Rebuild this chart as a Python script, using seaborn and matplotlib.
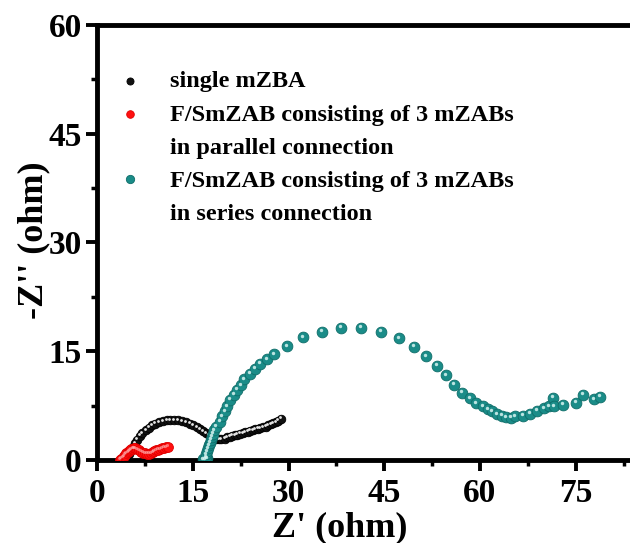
import numpy as np
import pandas as pd
import matplotlib
matplotlib.use("Agg")
import matplotlib.pyplot as plt
import matplotlib.transforms as mtransforms
from matplotlib.ticker import MultipleLocator
import seaborn as sns

# Nyquist data: Z' (ohm) vs -Z'' (ohm)
single_x = [5.0, 5.3, 5.6, 5.9, 6.3, 6.7, 7.1, 7.6, 8.1, 8.6, 9.1, 9.7, 10.3, 10.9,
            11.5, 12.1, 12.7, 13.3, 13.9, 14.5, 15.1, 15.6, 16.1, 16.6, 17.1, 17.5,
            17.9, 18.3, 18.7, 19.1, 19.5, 20.0, 20.4, 20.8, 21.2, 21.6, 22.0, 22.4,
            22.8, 23.2, 23.6, 24.0, 24.4, 24.8, 25.2, 25.6, 26.0, 26.4, 26.8, 27.2,
            27.6, 28.0, 28.4, 28.8]
single_y = [0.8, 1.3, 1.8, 2.3, 2.8, 3.3, 3.7, 4.1, 4.45, 4.75, 5.0, 5.2, 5.35, 5.45,
            5.5, 5.5, 5.45, 5.35, 5.2, 5.0, 4.75, 4.5, 4.25, 3.95, 3.65, 3.4,
            3.2, 3.0, 2.9, 2.85, 2.85, 2.95, 3.1, 3.2, 3.3, 3.4, 3.5, 3.6,
            3.7, 3.8, 3.9, 4.0, 4.1, 4.2, 4.3, 4.4, 4.5, 4.6, 4.75, 4.9,
            5.05, 5.2, 5.4, 5.7]

parallel_x = [3.6, 3.8, 4.0, 4.2, 4.4, 4.6, 4.8, 5.0, 5.2, 5.4, 5.6, 5.8, 6.0, 6.3,
              6.6, 6.9, 7.2, 7.5, 7.8, 8.1, 8.4, 8.7, 9.0, 9.3, 9.6, 9.9, 10.2,
              10.5, 10.8, 11.1]
parallel_y = [0.0, 0.15, 0.3, 0.5, 0.7, 0.9, 1.05, 1.2, 1.35, 1.45, 1.55, 1.6, 1.6, 1.5,
              1.35, 1.15, 1.0, 0.9, 0.85, 0.85, 0.95, 1.05, 1.2, 1.3, 1.4, 1.5, 1.6,
              1.7, 1.75, 1.8]

series_x = [16.6, 16.9, 17.2, 17.0, 17.1, 17.25, 17.4, 17.55, 17.7, 17.85, 18.0, 18.15,
            18.4, 18.7, 19.2, 19.6, 20.0, 20.4, 20.9, 21.4, 21.9, 22.5, 23.1, 23.9,
            24.7, 25.6, 26.7, 27.7, 29.7, 32.3, 35.2, 38.3, 41.4, 44.5, 47.3, 49.7,
            51.5, 53.2, 54.6, 55.9, 57.2, 58.4, 59.3, 60.4, 61.2, 61.9, 62.7, 63.4,
            64.1, 64.8, 65.5, 66.7, 67.9, 69.0, 70.0, 70.8, 71.4, 71.6, 73.0, 75.0,
            76.2, 77.8, 78.8]
series_y = [0.1, 0.1, 0.2, 0.4, 0.8, 1.2, 1.6, 2.0, 2.4, 2.8, 3.2, 3.6,
            4.1, 4.6, 5.3, 6.0, 6.7, 7.4, 8.3, 9.0, 9.7, 10.3, 11.1, 11.9,
            12.6, 13.3, 13.9, 14.6, 15.7, 16.9, 17.7, 18.2, 18.2, 17.7, 16.8, 15.6,
            14.3, 13.0, 11.7, 10.4, 9.3, 8.5, 7.8, 7.4, 7.0, 6.7, 6.3, 6.1,
            5.9, 5.8, 6.0, 6.1, 6.4, 6.8, 7.1, 7.4, 8.6, 7.4, 7.6, 7.9,
            9.0, 8.4, 8.7]

labels = ["single mZBA",
          "F/SmZAB consisting of 3 mZABs\nin parallel connection",
          "F/SmZAB consisting of 3 mZABs\nin series connection"]
x_ticks = [0, 15, 30, 45, 60, 75]
y_ticks = [0, 15, 30, 45, 60]

sns.set_theme(style="white")
plt.rcParams["font.family"] = ["Liberation Serif", "DejaVu Serif"]
plt.rcParams["font.weight"] = "bold"
plt.rcParams["text.color"] = "black"
plt.rcParams["axes.labelcolor"] = "black"
plt.rcParams["xtick.color"] = "black"
plt.rcParams["ytick.color"] = "black"

fig = plt.figure(figsize=(6.3, 5.43), dpi=100)
ax = fig.add_axes([0.154, 0.153, 0.846, 0.801])

styles = [
    dict(x=single_x, y=single_y, face="#111111", edge="#000000", s=38, hl="#ffffff", hs=4, ha=0.9),
    dict(x=parallel_x, y=parallel_y, face="#ff1010", edge="#e00000", s=50, hl="#ffb0b0", hs=5, ha=0.6),
    dict(x=series_x, y=series_y, face="#1a8c88", edge="#0f6d69", s=60, hl="#d8f4f2", hs=6, ha=0.85),
]

# small highlight offset to give each marker a glossy bead look
hl_tf = mtransforms.offset_copy(ax.transData, fig=fig, x=-1.0, y=1.5, units="dots")

for st in styles:
    df = pd.DataFrame({"zr": st["x"], "zi": st["y"]})
    sns.scatterplot(data=df, x="zr", y="zi", ax=ax, s=st["s"], color=st["face"],
                    edgecolor=st["edge"], linewidth=0.6, legend=False, zorder=3)
    sns.scatterplot(data=df, x="zr", y="zi", ax=ax, s=st["hs"], color=st["hl"],
                    linewidth=0, alpha=st["ha"], legend=False, zorder=3,
                    transform=hl_tf)

# legend drawn by hand so the marker sits on the first text line
leg_rows = [(0.872, [0.869]), (0.796, [0.791, 0.715]), (0.646, [0.639, 0.565])]
leg_s = [26, 30, 36]
for (my, ty_list), st, lab, ms in zip(leg_rows, styles, labels, leg_s):
    ax.scatter([0.062], [my], transform=ax.transAxes, s=ms,
               color=st["face"], edgecolor=st["edge"], linewidth=0.6, zorder=4,
               clip_on=False)
    for ty, line in zip(ty_list, lab.split("\n")):
        ax.text(0.137, ty, line, transform=ax.transAxes, fontsize=17.5,
                fontweight="bold", va="center", ha="left", color="black")

ax.set_xlim(0, 83.5)
ax.set_ylim(0, 60)
ax.set_xticks(x_ticks)
ax.set_yticks(y_ticks)
ax.xaxis.set_minor_locator(MultipleLocator(7.5))
ax.yaxis.set_minor_locator(MultipleLocator(7.5))
ax.tick_params(axis="both", which="major", direction="out", length=8, width=2.8,
               labelsize=24, color="black", labelcolor="black", pad=3)
ax.tick_params(axis="both", which="minor", direction="out", length=4.5, width=2.5,
               color="black")
ax.tick_params(axis="x", which="major", pad=5)
ax.tick_params(bottom=True, left=True, which="both")
for lab in ax.get_xticklabels() + ax.get_yticklabels():
    lab.set_fontweight("bold")

for side in ["left", "bottom", "top"]:
    ax.spines[side].set_linewidth(3.5)
    ax.spines[side].set_color("black")
ax.spines["right"].set_visible(False)

ax.set_xlabel("Z' (ohm)", fontsize=26, fontweight="bold", color="black")
ax.set_ylabel("-Z'' (ohm)", fontsize=26, fontweight="bold", color="black")
ax.xaxis.set_label_coords(0.455, -0.118)
ax.yaxis.set_label_coords(-0.088, 0.505)

fig.savefig("out.png", dpi=100, facecolor="white")
